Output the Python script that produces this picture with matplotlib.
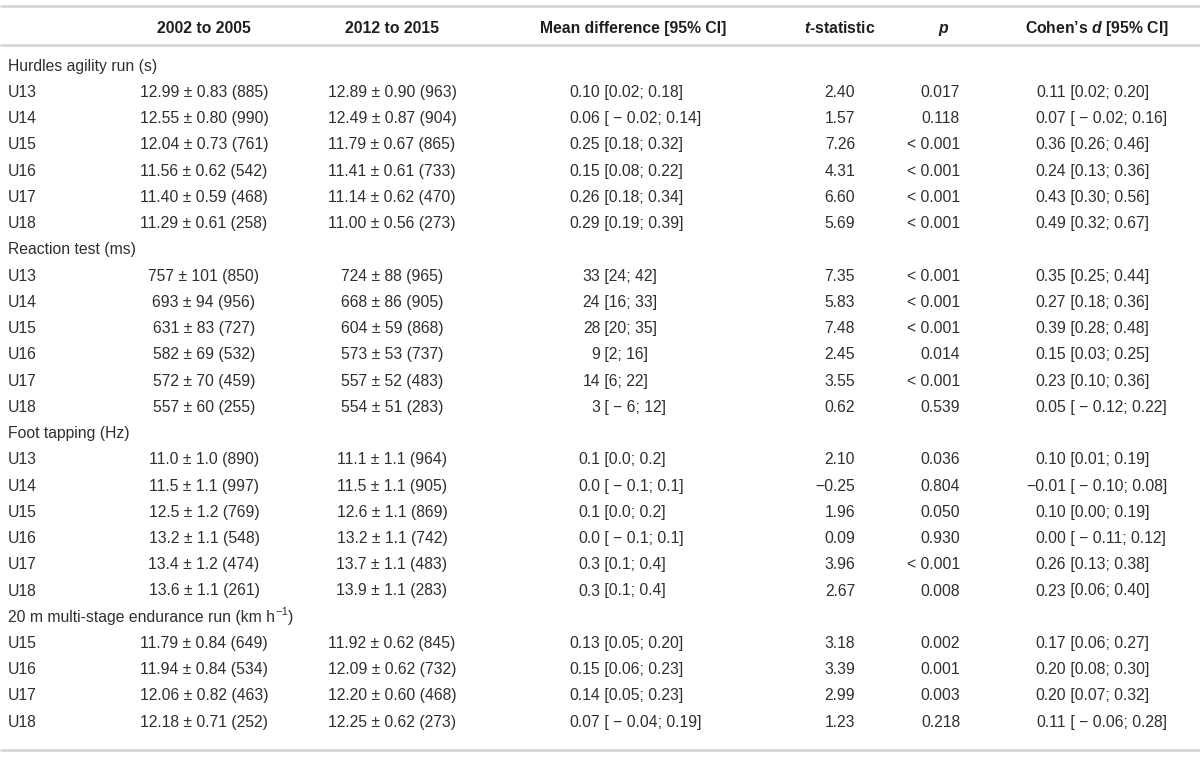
import matplotlib
matplotlib.use("Agg")
import matplotlib.pyplot as plt

plt.rcParams['font.family'] = ['Liberation Sans', 'DejaVu Sans']
plt.rcParams['mathtext.fontset'] = 'custom'
plt.rcParams['mathtext.rm'] = 'Liberation Sans'
plt.rcParams['mathtext.it'] = 'Liberation Sans:italic'
plt.rcParams['mathtext.bf'] = 'Liberation Sans:bold'
plt.rcParams['mathtext.bfit'] = 'Liberation Sans:italic:bold'

headers = ["2002 to 2005", "2012 to 2015", "Mean difference [95% CI]",
           r"$\mathbfit{t}$-statistic", r"$\mathbfit{p}$", r"Cohen’s $\mathbfit{d}$ [95% CI]"]

# last section title: main text, superscript, closing text
sections = ["Hurdles agility run (s)", "Reaction test (ms)", "Foot tapping (Hz)",
            ("20 m multi-stage endurance run (km h", "−1", ")")]

groups = [
    ["U13", "U14", "U15", "U16", "U17", "U18"],
    ["U13", "U14", "U15", "U16", "U17", "U18"],
    ["U13", "U14", "U15", "U16", "U17", "U18"],
    ["U15", "U16", "U17", "U18"],
]

period_2002 = [
    ["12.99 ± 0.83 (885)", "12.55 ± 0.80 (990)", "12.04 ± 0.73 (761)",
     "11.56 ± 0.62 (542)", "11.40 ± 0.59 (468)", "11.29 ± 0.61 (258)"],
    ["757 ± 101 (850)", "693 ± 94 (956)", "631 ± 83 (727)",
     "582 ± 69 (532)", "572 ± 70 (459)", "557 ± 60 (255)"],
    ["11.0 ± 1.0 (890)", "11.5 ± 1.1 (997)", "12.5 ± 1.2 (769)",
     "13.2 ± 1.1 (548)", "13.4 ± 1.2 (474)", "13.6 ± 1.1 (261)"],
    ["11.79 ± 0.84 (649)", "11.94 ± 0.84 (534)", "12.06 ± 0.82 (463)", "12.18 ± 0.71 (252)"],
]

period_2012 = [
    ["12.89 ± 0.90 (963)", "12.49 ± 0.87 (904)", "11.79 ± 0.67 (865)",
     "11.41 ± 0.61 (733)", "11.14 ± 0.62 (470)", "11.00 ± 0.56 (273)"],
    ["724 ± 88 (965)", "668 ± 86 (905)", "604 ± 59 (868)",
     "573 ± 53 (737)", "557 ± 52 (483)", "554 ± 51 (283)"],
    ["11.1 ± 1.1 (964)", "11.5 ± 1.1 (905)", "12.6 ± 1.1 (869)",
     "13.2 ± 1.1 (742)", "13.7 ± 1.1 (483)", "13.9 ± 1.1 (283)"],
    ["11.92 ± 0.62 (845)", "12.09 ± 0.62 (732)", "12.20 ± 0.60 (468)", "12.25 ± 0.62 (273)"],
]

mean_diff = [
    ["0.10 [0.02; 0.18]", "0.06 [ − 0.02; 0.14]", "0.25 [0.18; 0.32]",
     "0.15 [0.08; 0.22]", "0.26 [0.18; 0.34]", "0.29 [0.19; 0.39]"],
    ["33 [24; 42]", "24 [16; 33]", "28 [20; 35]",
     "9 [2; 16]", "14 [6; 22]", "3 [ − 6; 12]"],
    ["0.1 [0.0; 0.2]", "0.0 [ − 0.1; 0.1]", "0.1 [0.0; 0.2]",
     "0.0 [ − 0.1; 0.1]", "0.3 [0.1; 0.4]", "0.3 [0.1; 0.4]"],
    ["0.13 [0.05; 0.20]", "0.15 [0.06; 0.23]", "0.14 [0.05; 0.23]", "0.07 [ − 0.04; 0.19]"],
]

t_stat = [
    ["2.40", "1.57", "7.26", "4.31", "6.60", "5.69"],
    ["7.35", "5.83", "7.48", "2.45", "3.55", "0.62"],
    ["2.10", "−0.25", "1.96", "0.09", "3.96", "2.67"],
    ["3.18", "3.39", "2.99", "1.23"],
]

p_val = [
    ["0.017", "0.118", "< 0.001", "< 0.001", "< 0.001", "< 0.001"],
    ["< 0.001", "< 0.001", "< 0.001", "0.014", "< 0.001", "0.539"],
    ["0.036", "0.804", "0.050", "0.930", "< 0.001", "0.008"],
    ["0.002", "0.001", "0.003", "0.218"],
]

cohen_d = [
    ["0.11 [0.02; 0.20]", "0.07 [ − 0.02; 0.16]", "0.36 [0.26; 0.46]",
     "0.24 [0.13; 0.36]", "0.43 [0.30; 0.56]", "0.49 [0.32; 0.67]"],
    ["0.35 [0.25; 0.44]", "0.27 [0.18; 0.36]", "0.39 [0.28; 0.48]",
     "0.15 [0.03; 0.25]", "0.23 [0.10; 0.36]", "0.05 [ − 0.12; 0.22]"],
    ["0.10 [0.01; 0.19]", "−0.01 [ − 0.10; 0.08]", "0.10 [0.00; 0.19]",
     "0.00 [ − 0.11; 0.12]", "0.26 [0.13; 0.38]", "0.23 [0.06; 0.40]"],
    ["0.17 [0.06; 0.27]", "0.20 [0.08; 0.30]", "0.20 [0.07; 0.32]", "0.11 [ − 0.06; 0.28]"],
]

# ---- layout ----
W, H = 1200, 760
fig = plt.figure(figsize=(12, 7.6), dpi=100)
ax = fig.add_axes([0, 0, 1, 1])
ax.set_xlim(0, W)
ax.set_ylim(H, 0)
ax.axis('off')

FS = 11.3
BODY = '#2f2f2f'
HEAD = '#1e1e1e'
LINE = '#d2d2d2'
BL = 5.7   # baseline offset from visual centre (px)

x_label = 8
x_c1, x_c2 = 204, 392
x_md = 600      # end of first number in mean difference
x_t = 855       # right edge t
x_p = 960       # right edge p
x_d = 1066      # end of first number in Cohen's d
head_x = [204, 392, 633, 840, 944, 1097]

y_head = 27
y0 = 65
step = 26.24

for y in (6, 45, 750):
    ax.plot([0, W], [y, y], color=LINE, lw=1.8, solid_capstyle='butt')

def txt(x, y, s, ha, **kw):
    kw.setdefault('color', BODY)
    return ax.text(x, y + BL, s, ha=ha, va='baseline', fontsize=FS, **kw)

for hx, h in zip(head_x, headers):
    txt(hx, y_head, h, 'center', fontweight='bold', color=HEAD)

def split_text(x0, y, s):
    first, rest = s.split(" ", 1)
    txt(x0, y, first, 'right')
    txt(x0, y, " " + rest, 'left')

def section_title(y, sec):
    if isinstance(sec, str):
        txt(x_label, y, sec, 'left')
        return
    main, sup, close = sec
    t1 = txt(x_label, y, main, 'left')
    t2 = ax.annotate(sup, xy=(1, 0.5), xycoords=t1, ha='left', va='bottom',
                     fontsize=FS * 0.72, color=BODY)
    ax.annotate(close, xy=(1, 0), xycoords=(t2, t1), ha='left', va='bottom',
                fontsize=FS, color=BODY)

row = 0
for si, sec in enumerate(sections):
    y = y0 + row * step
    section_title(y, sec)
    row += 1
    for gi, g in enumerate(groups[si]):
        y = y0 + row * step
        txt(x_label, y, g, 'left')
        txt(x_c1, y, period_2002[si][gi], 'center')
        txt(x_c2, y, period_2012[si][gi], 'center')
        split_text(x_md, y, mean_diff[si][gi])
        txt(x_t, y, t_stat[si][gi], 'right')
        txt(x_p, y, p_val[si][gi], 'right')
        split_text(x_d, y, cohen_d[si][gi])
        row += 1

fig.savefig("out.png", dpi=100)
